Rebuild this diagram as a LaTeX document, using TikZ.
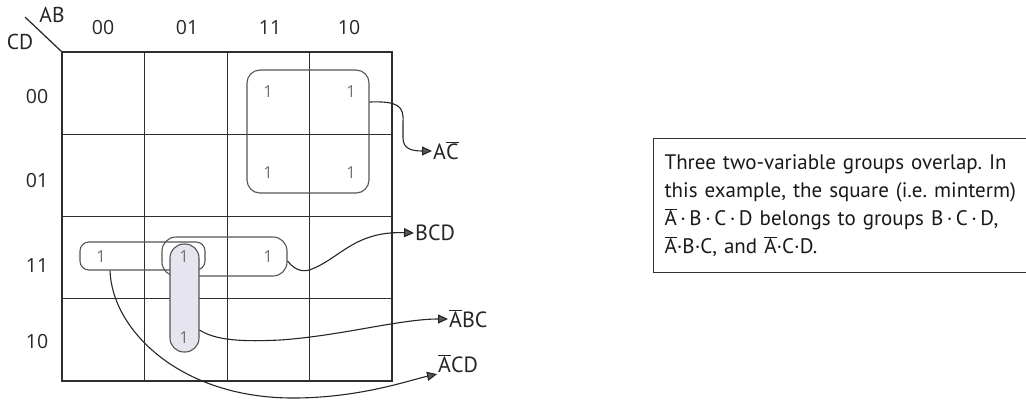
\documentclass[tikz,border=0pt]{standalone}
\usepackage{fontspec}
\setmainfont{PT Sans}
\newfontfamily\digitfont{Open Sans}
\usetikzlibrary{arrows.meta}
\definecolor{gridc}{HTML}{2E2E2E}
\definecolor{grpc}{HTML}{555555}
\definecolor{onec}{HTML}{707070}
\definecolor{pillc}{HTML}{E6E4EF}
\definecolor{tipc}{HTML}{555555}
\newcommand{\ob}[1]{$\overline{\mbox{#1}}$}
\frenchspacing
\tikzset{
  gridline/.style={draw=gridc, line width=1.1pt},
  border/.style={draw=gridc, line width=1.6pt},
  grp/.style={draw=grpc, line width=1.1pt, rectangle, rounded corners=#1, inner sep=0pt},
  grp/.default=8pt,
  one/.style={text=onec, font=\digitfont\fontsize{16.5}{16.5}\selectfont, inner sep=0pt},
  lab/.style={text=black!85, font=\fontsize{21.5}{21.5}\selectfont, inner sep=0pt},
  numlab/.style={text=black!85, font=\digitfont\fontsize{19.5}{19.5}\selectfont, inner sep=0pt},
  outlab/.style={text=black!85, font=\fontsize{22}{22}\selectfont, inner sep=1pt, anchor=west},
  conn/.style={draw=black!85, line width=1.1pt, -{Triangle[length=10pt,width=9pt,fill=tipc]}},
  tbox/.style={draw=black!80, line width=1.2pt, anchor=north west, inner xsep=10pt,
    minimum width=400pt, minimum height=134pt, text width=378pt, align=left,
    font=\fontsize{21}{28}\selectfont, text=black!90}
}
\begin{document}
\begin{tikzpicture}[x=1pt,y=-1pt]
\useasboundingbox (0,0) rectangle (1026,400);
% grid
\foreach \xx in {144.5,227.5,309.5} {
  \draw[gridline] (\xx,52) -- (\xx,381);
}
\foreach \yy in {134.5,216.5,298.5} {
  \draw[gridline] (62,\yy) -- (392,\yy);
}
\draw[border] (62,52) rectangle (392,381);
\draw[gridc, line width=1.3pt] (62,52) -- (25,17);
\node[lab] (ab) at (52,15) {AB};
\node[lab] (cd) at (20,42) {CD};
% column labels
\node[numlab] (c00) at (103,28) {00};
\node[numlab] (c01) at (187,28) {01};
\node[numlab] (c11) at (270,28) {11};
\node[numlab] (c10) at (349,28) {10};
% row labels
\node[numlab] (r00) at (37,97) {00};
\node[numlab] (r01) at (37,181) {01};
\node[numlab] (r11) at (37,266) {11};
\node[numlab] (r10) at (37,342) {10};
% groups
\node[grp=13pt, minimum width=122pt, minimum height=123pt] (gAC) at (308,131.5) {};
\node[grp=9pt, minimum width=125pt, minimum height=28pt] (gACD) at (142.5,256) {};
\node[grp=14pt, minimum width=125pt, minimum height=39pt] (gBCD) at (224.5,256.5) {};
\node[grp=14pt, fill=pillc, minimum width=29pt, minimum height=108pt] (gABC) at (184.5,298) {};
% ones
\node[one] (m1) at (268,92) {1};
\node[one] (m2) at (351,92) {1};
\node[one] (m3) at (268,173) {1};
\node[one] (m4) at (351,173) {1};
\node[one] (m5) at (101,257) {1};
\node[one] (m6) at (184,257) {1};
\node[one] (m7) at (268,257) {1};
\node[one] (m8) at (184,338) {1};
% output labels
\node[outlab] (lAC) at (432,151) {A\ob{C}};
\node[outlab] (lBCD) at (414,233) {BCD};
\node[outlab] (lABC) at (448,319) {\ob{A}BC};
\node[outlab] (lACD) at (437,364) {\ob{A}CD};
% connectors
\draw[conn] ([yshift=29.5pt]gAC.east) .. controls (398,101) and (404,106) .. (403,122)
  -- (403,138) .. controls (403,149) and (412,151) .. (lAC.west);
\draw[conn] ([yshift=-4.5pt]gBCD.east) .. controls (296,272) and (305,272) .. (312,269)
  .. controls (340,258) and (355,231) .. (lBCD.west);
\draw[conn] ([yshift=-32pt]gABC.east) .. controls (215,340) and (240,342) .. (280,340)
  .. controls (340,336) and (400,319) .. (lABC.west);
\draw[conn] ([xshift=-32.5pt]gACD.south) .. controls (112,330) and (180,398) .. (293,398)
  .. controls (360,398) and (410,380) .. (lACD.south west);
% text box
\node[tbox] (note) at (653,138) {Three two-variable groups overlap. In\\
this example, the square (i.e. minterm)\\
\ob{A}\,·\,B\,·\,C\,·\,D belongs to groups B\,·\,C\,·\,D,\\
\ob{A}·B·C, and \ob{A}·C·D.};
\end{tikzpicture}
\end{document}
